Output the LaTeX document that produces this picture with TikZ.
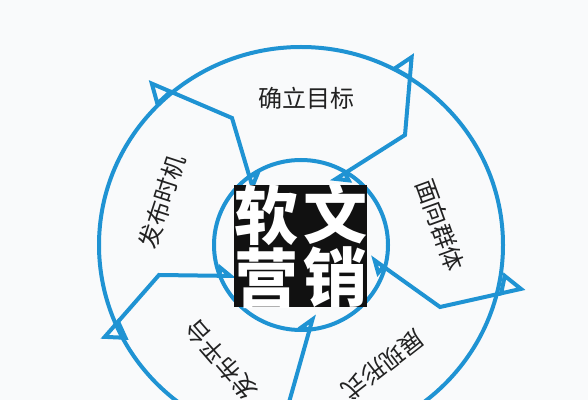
\documentclass[tikz,border=0pt]{standalone}
\usepackage{fontspec}
\usepackage{xcolor}
\usepackage{tikz}
\usetikzlibrary{arrows.meta}
\newfontfamily\cjk{Noto Sans CJK SC}
\definecolor{paper}{HTML}{F9FAFB}
\definecolor{ring}{HTML}{1F93D3}
\definecolor{ink}{HTML}{222222}
\definecolor{core}{HTML}{111111}
\tikzset{
  ringLine/.style={draw=ring, line width=2pt},
  stageArrow/.style={ringLine,
    {Kite[open, harpoon, length=8pt, width=12pt, inset=0.5pt]}-{Kite[open, harpoon, length=12.5pt, width=20pt, inset=4.5pt]}},
  stageTail/.style={ringLine, {Kite[open, harpoon, length=8pt, width=12pt, inset=0.5pt]}-},
  stageLabel/.style={text=ink, font=\cjk\fontsize{12}{12}\selectfont, inner sep=0pt},
  coreText/.style={text=white, font=\cjk\bfseries\fontsize{32}{32}\selectfont, inner sep=0pt}
}
\begin{document}
\begin{tikzpicture}[x=0.5pt, y=-0.5pt]
  \clip (0,0) rectangle (588,400);
  \fill[paper] (0,0) rectangle (588,400);

  \coordinate (O) at (301,245);
  \draw[ringLine] (O) ellipse [x radius=202, y radius=198];
  \draw[ringLine] (O) ellipse [x radius=87, y radius=85];

  % stage borders, inner tip to outer tip
  \coordinate (a0) at (254,192);
  \coordinate (a1) at (232,118);
  \coordinate (a2) at (148,82);
  \coordinate (b0) at (331,182);
  \coordinate (b1) at (405,135);
  \coordinate (b2) at (412,53);
  \coordinate (c0) at (370,257);
  \coordinate (c1) at (440,307);
  \coordinate (c2) at (525,288);
  \coordinate (d0) at (314,314);
  \coordinate (d1) at (284,420);
  \coordinate (e0) at (236,276);
  \coordinate (e1) at (159,275);
  \coordinate (e2) at (102,340);

  \draw[stageArrow] (a0) -- (a1) -- (a2);
  \draw[stageArrow] (b0) -- (b1) -- (b2);
  \draw[stageArrow] (c0) -- (c1) -- (c2);
  \draw[stageTail] (d0) -- (d1);
  \draw[stageArrow] (e0) -- (e1) -- (e2);

  \fill[core] (234,185) rectangle (367,307);
  \node[coreText] (ruan) at (266,215) {软};
  \node[coreText] (wen) at (335,214) {文};
  \node[coreText] (ying) at (266,278) {营};
  \node[coreText] (xiao) at (335,277) {销};

  \node[stageLabel] (goal) at (306,98) {确立目标};
  \node[stageLabel, rotate=-70] (crowd) at (440,225) {面向群体};
  \node[stageLabel, rotate=-142] (form) at (383,365) {展现形式};
  \node[stageLabel, rotate=131] (platform) at (221,360) {发布平台};
  \node[stageLabel, rotate=72] (timing) at (162,202) {发布时机};
\end{tikzpicture}
\end{document}
